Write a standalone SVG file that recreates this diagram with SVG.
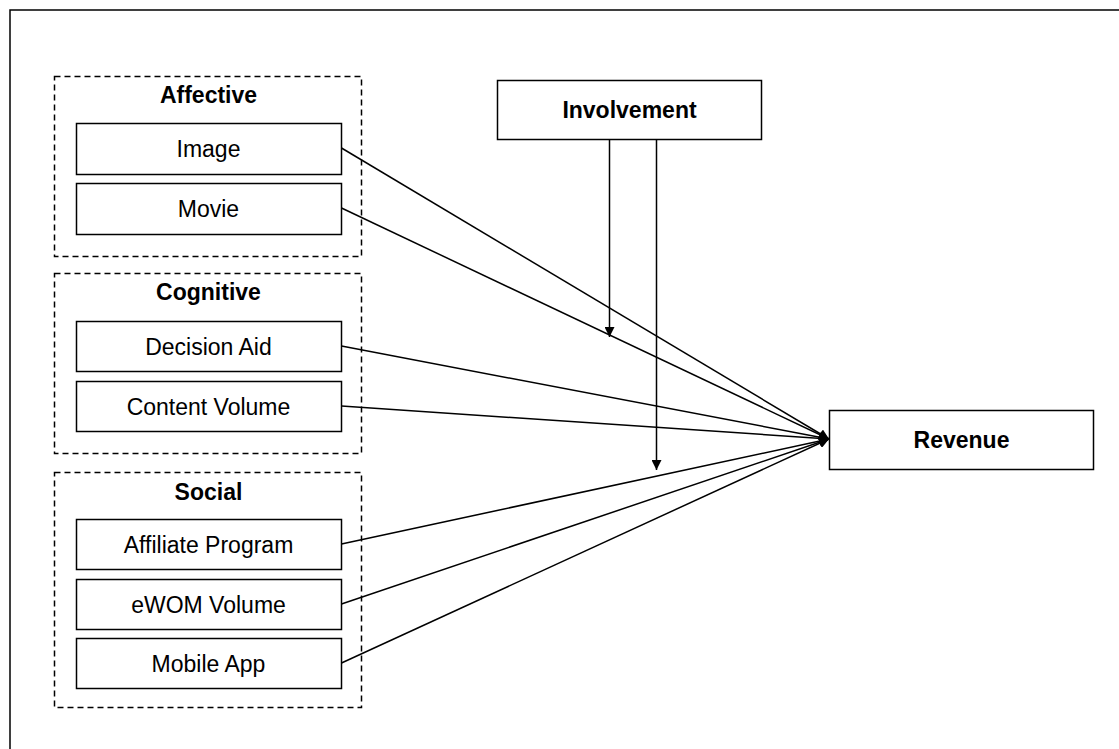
<svg xmlns="http://www.w3.org/2000/svg" width="1119" height="749" viewBox="0 0 1119 749">
<style>
.box{fill:#fff;stroke:#000;stroke-width:1.5}
.grp{fill:none;stroke:#000;stroke-width:1.5;stroke-dasharray:6 4}
.t{font-family:"Liberation Sans",Arial,sans-serif;font-size:23px;text-anchor:middle;fill:#000}
.b{font-weight:bold}
.c{fill:none;stroke:#000;stroke-width:1.5}
</style>
<defs>
<marker id="ah" viewBox="0 0 10 10" refX="10" refY="5" markerWidth="10" markerHeight="10" markerUnits="userSpaceOnUse" orient="auto">
<path d="M0,0 L10,5 L0,10 Z" fill="#000"/>
</marker>
</defs>
<rect x="0" y="0" width="1119" height="749" fill="#fff"/>
<rect x="10" y="10" width="1200" height="800" fill="none" stroke="#000" stroke-width="1.5"/>

<g id="affective">
<rect class="grp" x="54.5" y="76.5" width="307" height="180"/>
<text class="t b" x="208.5" y="103">Affective</text>
</g>
<g id="image"><rect class="box" x="76.5" y="123.5" width="265" height="51"/><text class="t" x="208.5" y="157">Image</text></g>
<g id="movie"><rect class="box" x="76.5" y="183.5" width="265" height="51"/><text class="t" x="208.5" y="217">Movie</text></g>

<g id="cognitive">
<rect class="grp" x="54.5" y="273.5" width="307" height="180"/>
<text class="t b" x="208.5" y="300">Cognitive</text>
</g>
<g id="decision-aid"><rect class="box" x="76.5" y="321.5" width="265" height="50"/><text class="t" x="208.5" y="354.5">Decision Aid</text></g>
<g id="content-volume"><rect class="box" x="76.5" y="381.5" width="265" height="50"/><text class="t" x="208.5" y="414.5">Content Volume</text></g>

<g id="social">
<rect class="grp" x="54.5" y="472.5" width="307" height="235"/>
<text class="t b" x="208.5" y="500">Social</text>
</g>
<g id="affiliate-program"><rect class="box" x="76.5" y="519.5" width="265" height="50"/><text class="t" x="208.5" y="552.5">Affiliate Program</text></g>
<g id="ewom-volume"><rect class="box" x="76.5" y="579.5" width="265" height="50"/><text class="t" x="208.5" y="612.5">eWOM Volume</text></g>
<g id="mobile-app"><rect class="box" x="76.5" y="638.5" width="265" height="50"/><text class="t" x="208.5" y="671.5">Mobile App</text></g>

<g id="involvement"><rect class="box" x="497.5" y="80.5" width="264" height="59"/><text class="t b" x="629.5" y="118">Involvement</text></g>
<g id="revenue"><rect class="box" x="829.5" y="410.5" width="264" height="59"/><text class="t b" x="961.5" y="448">Revenue</text></g>

<g id="connectors">
<line class="c" x1="341.5" y1="148" x2="829" y2="439" marker-end="url(#ah)"/>
<line class="c" x1="341.5" y1="208" x2="829" y2="439" marker-end="url(#ah)"/>
<line class="c" x1="341.5" y1="346" x2="829" y2="439" marker-end="url(#ah)"/>
<line class="c" x1="341.5" y1="406" x2="829" y2="439" marker-end="url(#ah)"/>
<line class="c" x1="341.5" y1="544" x2="829" y2="439" marker-end="url(#ah)"/>
<line class="c" x1="341.5" y1="604" x2="829" y2="439" marker-end="url(#ah)"/>
<line class="c" x1="341.5" y1="663" x2="829" y2="439" marker-end="url(#ah)"/>
<line class="c" x1="609.5" y1="140" x2="609.5" y2="337" marker-end="url(#ah)"/>
<line class="c" x1="656.5" y1="140" x2="656.5" y2="470" marker-end="url(#ah)"/>
</g>
</svg>
